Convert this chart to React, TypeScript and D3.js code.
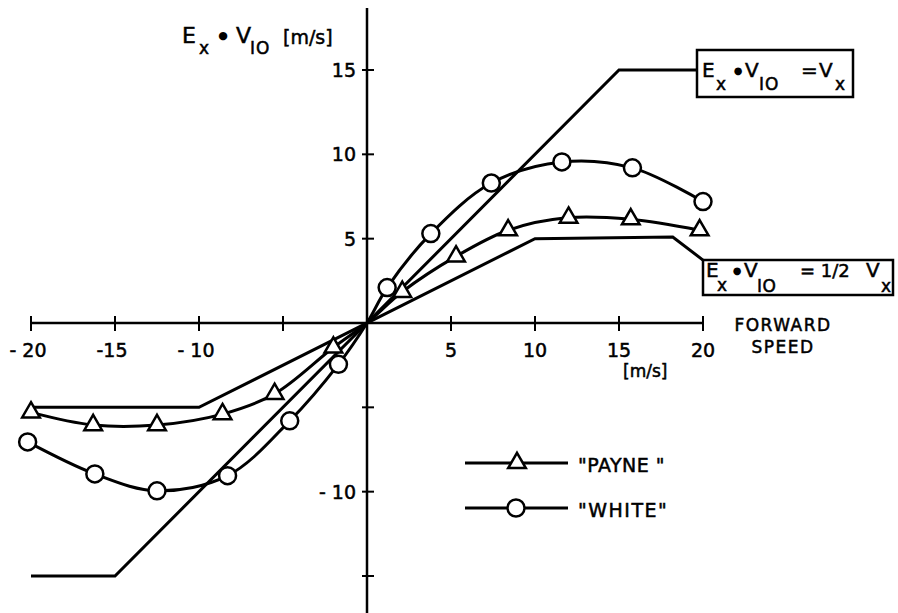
import React from "react";
import * as d3 from "d3";

// ---- data ----
const xTicks = [-20, -15, -10, -5, 5, 10, 15, 20];
const xTickLabels = ["- 20", "-15", "- 10", "", "5", "10", "15", "20"];
const yTicks = [15, 10, 5, -5, -10, -15];
const yTickLabels = ["15", "10", "5", "", "- 10", ""];

const payneX = [-20, -16.3, -12.5, -8.6, -5.5, -2, 2.1, 5.3, 8.4, 12, 15.7, 19.8];
const payneY = [-5.3, -6.05, -6.05, -5.4, -4.2, -1.45, 1.85, 3.95, 5.5, 6.25, 6.15, 5.5];
const whiteX = [-20.2, -16.2, -12.5, -8.3, -4.6, -1.7, 1.2, 3.8, 7.4, 11.6, 15.8, 20];
const whiteY = [-7.05, -8.95, -9.95, -9.05, -5.8, -2.45, 2.1, 5.3, 8.3, 9.55, 9.2, 7.2];

// reference lines Ex·VIO = Vx and = 1/2 Vx (with leader to label box)
const fullLineX = [-20, -15, 15, 19.64];
const fullLineY = [-15, -15, 15, 15];
const halfLineX = [-20, -10, 10, 18.2, 20];
const halfLineY = [-5, -5, 5, 5.1, 3.73];

const legendNames = ['"PAYNE "', '"WHITE"'];

const W = 898;
const H = 613;
const FONT = "'DejaVu Sans', sans-serif";

export default function App() {
  const x = d3.scaleLinear().domain([-20, 20]).range([31, 703]);
  const y = d3.scaleLinear().domain([-15, 15]).range([576, 70]);
  const x0 = x(0);
  const y0 = y(0);

  const withOrigin = (xs: number[], ys: number[]) => {
    const pts = xs.map((v, i) => [v, ys[i]] as [number, number]);
    pts.push([0, 0]);
    pts.sort((a, b) => a[0] - b[0]);
    return pts;
  };

  const curve = d3
    .line<[number, number]>()
    .x((d) => x(d[0]))
    .y((d) => y(d[1]))
    .curve(d3.curveCatmullRom.alpha(0.5));
  const straight = d3
    .line<[number, number]>()
    .x((d) => x(d[0]))
    .y((d) => y(d[1]));

  const tri = d3.symbol().type(d3.symbolTriangle).size(135)();

  const payPts = payneX.map((v, i) => [v, payneY[i]] as [number, number]);
  const whtPts = whiteX.map((v, i) => [v, whiteY[i]] as [number, number]);

  const sub = 17;
  const big = 20;
  const ts = { stroke: "#000", strokeWidth: 0.5, fill: "#000" };

  return (
    <svg
      width={W}
      height={H}
      style={{ position: "absolute", left: 0, top: 0, background: "#fff" }}
      fontFamily={FONT}
    >
      <rect x={0} y={0} width={W} height={H} fill="#fff" />
      {/* axes */}
      <line x1={x(-20)} x2={x(20)} y1={y0} y2={y0} stroke="#000" strokeWidth={2.5} />
      <line x1={x0} x2={x0} y1={8} y2={H} stroke="#000" strokeWidth={2.5} />
      {xTicks.map((t, i) => (
        <g key={"xt" + i}>
          <line x1={x(t)} x2={x(t)} y1={y0 - 7} y2={y0 + 8} stroke="#000" strokeWidth={2} />
          {xTickLabels[i] && (
            <text x={x(t) - (t < 0 ? 3 : 0)} y={357} fontSize={19} textAnchor="middle" {...ts}>
              {xTickLabels[i]}
            </text>
          )}
        </g>
      ))}
      {yTicks.map((t, i) => (
        <g key={"yt" + i}>
          <line x1={x0 - 5} x2={x0 + 7} y1={y(t)} y2={y(t)} stroke="#000" strokeWidth={2} />
          {yTickLabels[i] && (
            <text x={x0 - 11} y={y(t) + 7} fontSize={19} textAnchor="end" {...ts}>
              {yTickLabels[i]}
            </text>
          )}
        </g>
      ))}
      {/* axis titles */}
      <text x={783} y={331} fontSize={17} textAnchor="middle" letterSpacing={1.5} {...ts}>FORWARD</text>
      <text x={783} y={353} fontSize={17} textAnchor="middle" letterSpacing={1.5} {...ts}>SPEED</text>
      <text x={623} y={377} fontSize={17} {...ts}>[m/s]</text>

      <text x={182} y={43} fontSize={22} {...ts}>E</text>
      <text x={199} y={54} fontSize={sub} {...ts}>x</text>
      <text x={223} y={39} fontSize={11} textAnchor="middle">●</text>
      <text x={236} y={43} fontSize={22} {...ts}>V</text>
      <text x={250} y={54} fontSize={sub} letterSpacing={1} {...ts}>IO</text>
      <text x={283} y={44} fontSize={19} {...ts}>[m/s]</text>

      {/* reference lines */}
      <path
        d={straight(fullLineX.map((v, i) => [v, fullLineY[i]] as [number, number])) || ""}
        fill="none"
        stroke="#000"
        strokeWidth={3}
      />
      <path
        d={straight(halfLineX.map((v, i) => [v, halfLineY[i]] as [number, number])) || ""}
        fill="none"
        stroke="#000"
        strokeWidth={3}
      />

      {/* series curves */}
      <path d={curve(withOrigin(whiteX, whiteY)) || ""} fill="none" stroke="#000" strokeWidth={3} />
      <path d={curve(withOrigin(payneX, payneY)) || ""} fill="none" stroke="#000" strokeWidth={3} />

      {whtPts.map((p, i) => (
        <circle key={"w" + i} cx={x(p[0])} cy={y(p[1])} r={8.5} fill="#fff" stroke="#000" strokeWidth={2.5} />
      ))}
      {payPts.map((p, i) => (
        <path
          key={"p" + i}
          d={tri || ""}
          transform={`translate(${x(p[0])},${y(p[1])})`}
          fill="#fff"
          stroke="#000"
          strokeWidth={2.5}
        />
      ))}

      {/* label box 1 */}
      <rect x={697} y={50} width={156} height={47} fill="#fff" stroke="#000" strokeWidth={2.5} />
      <text x={702} y={77} fontSize={big} {...ts}>E</text>
      <text x={716} y={90} fontSize={sub} {...ts}>x</text>
      <text x={738} y={74} fontSize={10} textAnchor="middle">●</text>
      <text x={745} y={77} fontSize={big} {...ts}>V</text>
      <text x={759} y={90} fontSize={sub} letterSpacing={1} {...ts}>IO</text>
      <text x={801} y={77} fontSize={big} {...ts}>=</text>
      <text x={819} y={77} fontSize={big} {...ts}>V</text>
      <text x={835} y={90} fontSize={sub} {...ts}>x</text>

      {/* label box 2 */}
      <rect x={703} y={260} width={190} height={35} fill="#fff" stroke="#000" strokeWidth={2.5} />
      <text x={706} y={277} fontSize={big} {...ts}>E</text>
      <text x={717} y={291} fontSize={sub} {...ts}>x</text>
      <text x={737} y={274} fontSize={10} textAnchor="middle">●</text>
      <text x={744} y={277} fontSize={big} {...ts}>V</text>
      <text x={757} y={292} fontSize={sub} letterSpacing={0.5} {...ts}>IO</text>
      <text x={800} y={277} fontSize={18} {...ts}>= 1/2</text>
      <text x={866} y={277} fontSize={big} {...ts}>V</text>
      <text x={881} y={292} fontSize={sub} {...ts}>x</text>

      {/* legend */}
      <line x1={465} x2={568} y1={463} y2={463} stroke="#000" strokeWidth={3} />
      <path d={tri || ""} transform="translate(517,463)" fill="#fff" stroke="#000" strokeWidth={2.5} />
      <text x={578} y={472} fontSize={19} letterSpacing={0.5} {...ts}>{legendNames[0]}</text>
      <line x1={465} x2={568} y1={508} y2={508} stroke="#000" strokeWidth={3} />
      <circle cx={516} cy={508} r={8.5} fill="#fff" stroke="#000" strokeWidth={2.5} />
      <text x={578} y={517} fontSize={19} letterSpacing={1.5} {...ts}>{legendNames[1]}</text>
    </svg>
  );
}
